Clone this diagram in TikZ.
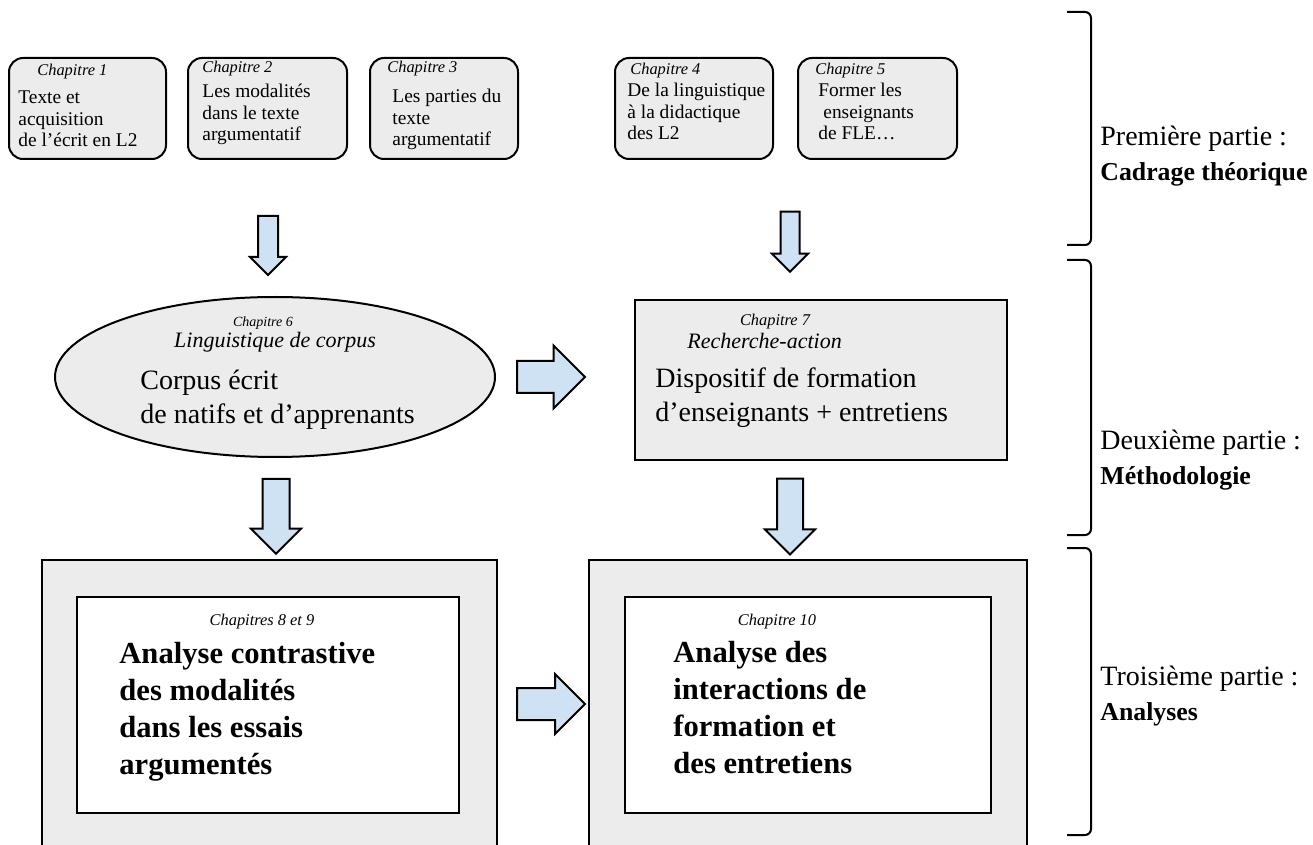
\documentclass[tikz,border=0pt]{standalone}
\usepackage{fontspec}
\setmainfont{Liberation Serif}
\usetikzlibrary{shapes.geometric,shapes.arrows}
\definecolor{boxgray}{HTML}{ECECEC}
\definecolor{arrowblue}{HTML}{CFE2F3}

\begin{document}
\begin{tikzpicture}[x=0.5pt,y=-0.5pt,
	every node/.style={black,inner sep=0pt},
	chapbox/.style={draw,line width=1pt,fill=boxgray,rounded corners=7pt,minimum height=50.5pt},
	chaptag/.style={anchor=base west,font=\fontsize{8.2}{9}\selectfont\itshape},
	chaptext/.style={anchor=base west,align=left,font=\fontsize{9.7}{10.75}\selectfont},
	bigtext/.style={anchor=base west,align=left,font=\fontsize{14}{17}\selectfont},
	boldtext/.style={anchor=base west,align=left,font=\fontsize{15.3}{18.35}\selectfont\bfseries},
	bluearrow/.style={single arrow,draw,line width=1pt,fill=arrowblue,inner xsep=0pt},
	partlabel/.style={anchor=base west,align=left,font=\fontsize{14}{17.5}\selectfont}]
	\useasboundingbox (0,0) rectangle (1313,845);

	\node[chapbox,minimum width=78.5pt] (ch1) at (87.5,108.5) {};
	\node[chapbox,minimum width=79.5pt] (ch2) at (267.5,108.5) {};
	\node[chapbox,minimum width=74pt] (ch3) at (444,108.5) {};
	\node[chapbox,minimum width=79pt] (ch4) at (694,108.5) {};
	\node[chapbox,minimum width=79.5pt] (ch5) at (877.5,108.5) {};

	\node[chaptag] (ch1tag) at (37,76) {Chapitre 1};
	\node[chaptext] (ch1txt) at (18,147) {Texte et\\acquisition\\de l’écrit en L2};
	\node[chaptag] (ch2tag) at (202,73) {Chapitre 2};
	\node[chaptext] (ch2txt) at (202,141) {Les modalités\\dans le texte\\argumentatif};
	\node[chaptag] (ch3tag) at (387,73) {Chapitre 3};
	\node[chaptext] (ch3txt) at (392,146) {Les parties du\\texte\\argumentatif};
	\node[chaptag] (ch4tag) at (630,75) {Chapitre 4};
	\node[chaptext] (ch4txt) at (627,140) {De la linguistique\\à la didactique\\des L2};
	\node[chaptag] (ch5tag) at (815,75) {Chapitre 5};
	\node[chaptext] (ch5txt) at (818,140) {Former les\\\hspace{2.5pt}enseignants\\de FLE…};

	\node[bluearrow,rotate=-90,minimum height=29.5pt,minimum width=17pt,inner ysep=4.5pt,single arrow head extend=4pt] (down1) at (268,240.5) {};
	\node[bluearrow,rotate=-90,minimum height=30pt,minimum width=17pt,inner ysep=4.25pt,single arrow head extend=4.25pt] (down2) at (790,237) {};

	\node[ellipse,draw,line width=1pt,fill=boxgray,minimum width=220pt,minimum height=80pt] (ch6) at (275,377) {};
	\node[anchor=base,font=\fontsize{7}{8}\selectfont\itshape] (ch6tag) at (263,327) {Chapitre 6};
	\node[anchor=base,font=\fontsize{11}{12}\selectfont\itshape] (ch6sub) at (275,348) {Linguistique de corpus};
	\node[bigtext] (ch6txt) at (140,423) {Corpus écrit\\de natifs et d’apprenants};

	\node[bluearrow,minimum height=34pt,minimum width=30.5pt,inner ysep=7.5pt,single arrow head extend=7.75pt] (right1) at (543,377) {};

	\node[draw,line width=1pt,fill=boxgray,minimum width=186pt,minimum height=80pt] (ch7) at (821,380) {};
	\node[anchor=base,font=\fontsize{8.2}{9}\selectfont\itshape] (ch7tag) at (775,326) {Chapitre 7};
	\node[chaptag,font=\fontsize{11}{12}\selectfont\itshape] (ch7sub) at (687,349) {Recherche-action};
	\node[bigtext] (ch7txt) at (655,422) {Dispositif de formation\\d’enseignants + entretiens};

	\node[bluearrow,rotate=-90,minimum height=37.5pt,minimum width=24pt,inner ysep=6.25pt,single arrow head extend=5.75pt] (down3) at (276,509.5) {};
	\node[bluearrow,rotate=-90,minimum height=38pt,minimum width=24pt,inner ysep=6pt,single arrow head extend=6pt] (down4) at (790,510) {};

	\node[draw,line width=1pt,fill=boxgray,minimum width=227.5pt,minimum height=155pt] (ana1) at (269.5,715) {};
	\node[draw,line width=1pt,fill=white,minimum width=191pt,minimum height=108pt] (ana1in) at (268,705) {};
	\node[anchor=base,font=\fontsize{8.2}{9}\selectfont\itshape] (ana1tag) at (262,625) {Chapitres 8 et 9};
	\node[boldtext] (ana1txt) at (119,774) {Analyse contrastive\\des modalités\\dans les essais\\argumentés};

	\node[bluearrow,minimum height=34pt,minimum width=29pt,inner ysep=7.5pt,single arrow head extend=7pt] (right2) at (543,704) {};

	\node[draw,line width=1pt,fill=boxgray,minimum width=219pt,minimum height=155pt] (ana2) at (808,715) {};
	\node[draw,line width=1pt,fill=white,minimum width=183pt,minimum height=108pt] (ana2in) at (808,705) {};
	\node[anchor=base,font=\fontsize{8.2}{9}\selectfont\itshape] (ana2tag) at (777,625) {Chapitre 10};
	\node[boldtext] (ana2txt) at (673,773) {Analyse des\\interactions de\\formation et\\des entretiens};

	\draw[line width=1pt,rounded corners=3pt] (1067,12)--(1091,12)--(1091,245)--(1067,245);
	\draw[line width=1pt,rounded corners=3pt] (1067,260)--(1091,260)--(1091,535)--(1067,535);
	\draw[line width=1pt,rounded corners=3pt] (1067,548)--(1091,548)--(1091,835)--(1067,835);

	\node[partlabel] (part1) at (1100,181) {Première partie :\\\fontsize{12.9}{17.5}\selectfont\bfseries Cadrage théorique};
	\node[partlabel] (part2) at (1100,485) {Deuxième partie :\\\fontsize{12.9}{17.5}\selectfont\bfseries Méthodologie};
	\node[partlabel] (part3) at (1100,720) {Troisième partie :\\\fontsize{12.9}{17.5}\selectfont\bfseries Analyses};
\end{tikzpicture}
\end{document}
